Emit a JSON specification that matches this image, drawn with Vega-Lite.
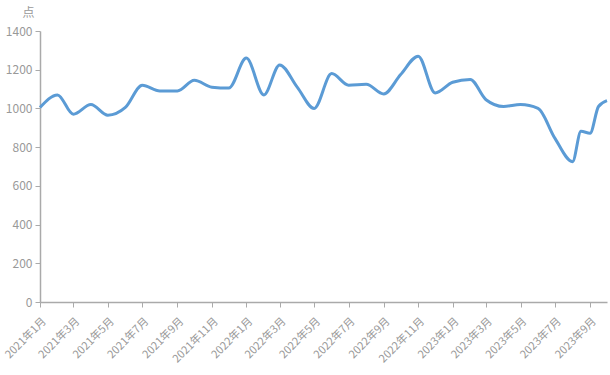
{
  "$schema": "https://vega.github.io/schema/vega-lite/v6.json",
  "width": 567,
  "height": 271,
  "autosize": {"type": "none"},
  "padding": {"left": 40, "top": 31, "right": 3, "bottom": 73},
  "background": "white",
  "config": {
    "view": {"stroke": null},
    "font": "Noto Sans CJK SC"
  },
  "data": {
    "values": [
      {"date": "2021-01-01T00:00:00", "value": 1005},
      {"date": "2021-02-01T00:00:00", "value": 1070},
      {"date": "2021-03-01T00:00:00", "value": 970},
      {"date": "2021-04-01T00:00:00", "value": 1020},
      {"date": "2021-05-01T00:00:00", "value": 965},
      {"date": "2021-06-01T00:00:00", "value": 1005},
      {"date": "2021-07-01T00:00:00", "value": 1120},
      {"date": "2021-08-01T00:00:00", "value": 1090},
      {"date": "2021-09-01T00:00:00", "value": 1090},
      {"date": "2021-10-01T00:00:00", "value": 1145},
      {"date": "2021-11-01T00:00:00", "value": 1110},
      {"date": "2021-12-01T00:00:00", "value": 1105},
      {"date": "2022-01-01T00:00:00", "value": 1260},
      {"date": "2022-02-01T00:00:00", "value": 1070},
      {"date": "2022-03-01T00:00:00", "value": 1225},
      {"date": "2022-04-01T00:00:00", "value": 1110},
      {"date": "2022-05-01T00:00:00", "value": 1000},
      {"date": "2022-06-01T00:00:00", "value": 1180},
      {"date": "2022-07-01T00:00:00", "value": 1120},
      {"date": "2022-08-01T00:00:00", "value": 1125},
      {"date": "2022-09-01T00:00:00", "value": 1075},
      {"date": "2022-10-01T00:00:00", "value": 1175},
      {"date": "2022-11-01T00:00:00", "value": 1270},
      {"date": "2022-12-01T00:00:00", "value": 1080},
      {"date": "2023-01-01T00:00:00", "value": 1135},
      {"date": "2023-02-01T00:00:00", "value": 1150},
      {"date": "2023-03-01T00:00:00", "value": 1045},
      {"date": "2023-04-01T00:00:00", "value": 1010},
      {"date": "2023-05-01T00:00:00", "value": 1020},
      {"date": "2023-06-01T00:00:00", "value": 1000},
      {"date": "2023-07-01T00:00:00", "value": 845},
      {"date": "2023-08-01T00:00:00", "value": 725},
      {"date": "2023-08-16T00:00:00", "value": 882},
      {"date": "2023-09-01T00:00:00", "value": 872},
      {"date": "2023-09-16T00:00:00", "value": 1010},
      {"date": "2023-10-01T00:00:00", "value": 1040}
    ]
  },
  "mark": {
    "type": "line",
    "color": "#5b9bd5",
    "strokeWidth": 3,
    "interpolate": "monotone"
  },
  "encoding": {
    "x": {
      "field": "date",
      "type": "temporal",
      "scale": {
        "domain": [
          {"year": 2021, "month": 1, "date": 1},
          {"year": 2023, "month": 10, "date": 1}
        ],
        "nice": false
      },
      "axis": {
        "title": null,
        "format": "%Y年%-m月",
        "tickCount": {"interval": "month", "step": 2},
        "labelAngle": -45,
        "labelAlign": "right",
        "labelBaseline": "top",
        "labelColor": "#999999",
        "labelFontSize": 11,
        "labelFont": "Noto Sans CJK SC",
        "labelOverlap": false,
        "labelFlush": false,
        "labelPadding": 8,
        "domainColor": "#aaaaaa",
        "domainWidth": 1.5,
        "tickColor": "#aaaaaa",
        "tickSize": 5,
        "grid": false
      }
    },
    "y": {
      "field": "value",
      "type": "quantitative",
      "scale": {"domain": [0, 1400], "nice": false},
      "axis": {
        "title": "点",
        "titleAngle": 360,
        "titleX": -12,
        "titleY": -19,
        "titleAlign": "center",
        "titleBaseline": "middle",
        "titleColor": "#999999",
        "titleFontSize": 12,
        "titleFontWeight": "normal",
        "titleFont": "Noto Sans CJK SC",
        "values": [0, 200, 400, 600, 800, 1000, 1200, 1400],
        "format": "d",
        "labelColor": "#999999",
        "labelFontSize": 12,
        "labelFont": "Noto Sans CJK SC",
        "labelPadding": 3,
        "domainColor": "#aaaaaa",
        "domainWidth": 1.5,
        "tickColor": "#aaaaaa",
        "tickSize": 5,
        "grid": false
      }
    }
  }
}
